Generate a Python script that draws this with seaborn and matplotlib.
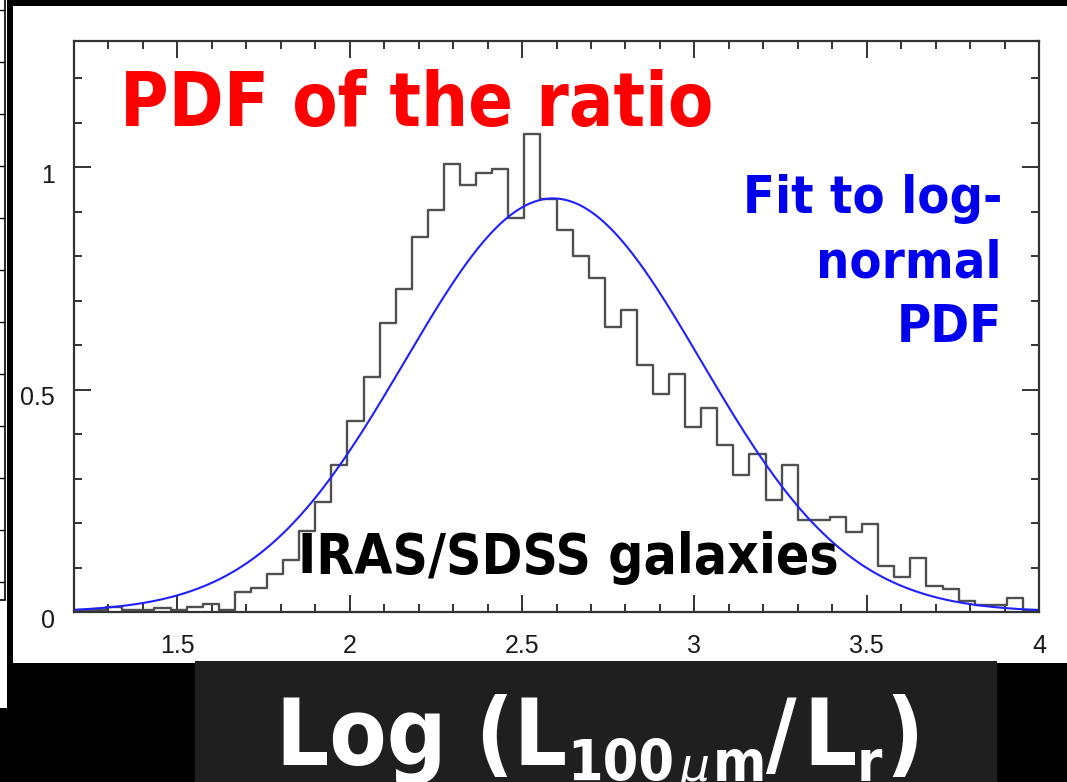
import os
import numpy as np
import pandas as pd
import matplotlib
matplotlib.use("Agg")
import matplotlib.pyplot as plt
import matplotlib.transforms as mtransforms
import seaborn as sns
from matplotlib import font_manager as fm
from matplotlib.patches import Rectangle
from matplotlib.lines import Line2D
from matplotlib.ticker import MultipleLocator, FixedLocator, FixedFormatter

# ---------------- data ----------------
bin_start = 1.2
bin_stop = 4.0
n_bins = 60
pdf_heights = [0.003, 0.004, 0.011, 0.004, 0.004, 0.010, 0.004, 0.012, 0.017, 0.004,
               0.046, 0.053, 0.085, 0.117, 0.183, 0.248, 0.331, 0.429, 0.528, 0.650,
               0.727, 0.844, 0.905, 1.008, 0.961, 0.987, 0.996, 0.885, 1.074, 0.929,
               0.858, 0.800, 0.752, 0.642, 0.679, 0.556, 0.491, 0.536, 0.415, 0.459,
               0.375, 0.309, 0.355, 0.251, 0.330, 0.206, 0.206, 0.214, 0.180, 0.199,
               0.103, 0.078, 0.122, 0.058, 0.051, 0.025, 0.016, 0.016, 0.032, 0.004]
# parameters of the fitted (log-normal) curve
fit_mu = 2.59
fit_sigma = 0.43
fit_peak = 0.93

x_ticks = [1.5, 2, 2.5, 3, 3.5, 4]
x_tick_labels = ["1.5", "2", "2.5", "3", "3.5", "4"]
y_ticks = [0, 0.5, 1]
y_tick_labels = ["0", "0.5", "1"]

title_text = "PDF of the ratio"
fit_text_lines = ["Fit to log-", "normal", "PDF"]
sample_text = "IRAS/SDSS galaxies"

# ---------------- fonts ----------------
def font_file(basename):
    for f in fm.fontManager.ttflist:
        if os.path.basename(f.fname) == basename:
            return f.fname
    try:
        for p in fm.findSystemFonts():
            if os.path.basename(p) == basename:
                return p
    except Exception:
        pass
    return None

cond_bold = font_file("DejaVuSansCondensed-Bold.ttf")


def bold_fp(size):
    if cond_bold:
        return fm.FontProperties(fname=cond_bold, size=size)
    return fm.FontProperties(family="DejaVu Sans", weight="bold", size=size * 0.9)


sns.set_style("ticks")
plt.rcParams["font.family"] = ["Liberation Sans", "DejaVu Sans"]

W, H = 1067, 782
fig = plt.figure(figsize=(W / 100, H / 100), dpi=100, facecolor="black")


def fx(px):
    return px / W


def fy(py):
    return 1 - py / H


# slide background pieces
fig.add_artist(Rectangle((fx(13), fy(663)), 1 - fx(13), fy(6) - fy(663),
                         transform=fig.transFigure, facecolor="white",
                         edgecolor="none", zorder=-5))
fig.add_artist(Rectangle((0, fy(708)), fx(7), 1 - fy(708), transform=fig.transFigure,
                         facecolor="white", edgecolor="none", zorder=-5))
fig.add_artist(Line2D([fx(5), fx(5)], [fy(0), fy(600)], transform=fig.transFigure,
                      color="black", lw=1.2, zorder=-4))
fig.add_artist(Line2D([0, fx(5)], [fy(600), fy(600)], transform=fig.transFigure,
                      color="black", lw=1.2, zorder=-4))
for yy in np.arange(10, 600, 52):
    fig.add_artist(Line2D([0, fx(4)], [fy(yy), fy(yy)], transform=fig.transFigure,
                          color="black", lw=1.0, zorder=-4))
fig.add_artist(Rectangle((fx(195), 0), fx(997) - fx(195), fy(661),
                         transform=fig.transFigure, facecolor="#1f1f1f",
                         edgecolor="none", zorder=-1))

# ---------------- axes ----------------
ax = fig.add_axes([fx(74), fy(612), fx(1039) - fx(74), fy(41) - fy(612)])
ax.set_facecolor("white")

edges = list(np.linspace(bin_start, bin_stop, n_bins + 1))
centers = [(a + b) / 2 for a, b in zip(edges[:-1], edges[1:])]
df_hist = pd.DataFrame({"ratio": centers, "pdf": pdf_heights})
sns.histplot(data=df_hist, x="ratio", weights="pdf", bins=edges, element="step",
             fill=False, color="#505050", linewidth=1.7, ax=ax)

x_fit = np.linspace(bin_start, bin_stop, 500)
y_fit = fit_peak * np.exp(-0.5 * ((x_fit - fit_mu) / fit_sigma) ** 2)
sns.lineplot(x=x_fit, y=y_fit, color="#2020ff", linewidth=1.5, ax=ax)

ax.set_xlim(bin_start, bin_stop)
ax.set_ylim(0, 1.284)
ax.set_xlabel("")
ax.set_ylabel("")

ax.xaxis.set_major_locator(FixedLocator(x_ticks))
ax.xaxis.set_major_formatter(FixedFormatter(x_tick_labels))
ax.xaxis.set_minor_locator(MultipleLocator(0.1))
ax.yaxis.set_major_locator(FixedLocator(y_ticks))
ax.yaxis.set_major_formatter(FixedFormatter(y_tick_labels))
ax.yaxis.set_minor_locator(MultipleLocator(0.1))

ax.tick_params(which="both", direction="in", top=True, right=True,
               color="#333333", width=1.4)
ax.tick_params(which="major", length=12)
ax.tick_params(which="minor", length=6)
ax.tick_params(axis="x", which="major", pad=16, labelsize=18, labelcolor="#1a1a1a")
ax.tick_params(axis="y", which="major", pad=14, labelsize=18, labelcolor="#1a1a1a")
for s in ax.spines.values():
    s.set_visible(True)
    s.set_color("#333333")
    s.set_linewidth(1.6)

offset = mtransforms.ScaledTranslation(0, -0.06, fig.dpi_scale_trans)
for lab in ax.get_yticklabels():
    lab.set_transform(lab.get_transform() + offset)

# ---------------- annotations ----------------
fig.text(fx(120), fy(126), title_text, color="#ff0000", fontproperties=bold_fp(53),
         ha="left", va="baseline")
for line, b in zip(fit_text_lines, [213, 277, 342]):
    fig.text(fx(1002), fy(b), line, color="#0000ee", fontproperties=bold_fp(37.5),
             ha="right", va="baseline")
fig.text(fx(298), fy(573), sample_text, color="black", fontproperties=bold_fp(39.5),
         ha="left", va="baseline")

# x-axis caption on the dark box: Log (L_100μm / L_r)
main_fp = bold_fp(67)
sub_fp = bold_fp(41)
mu_fp = fm.FontProperties(family="DejaVu Sans", style="oblique", size=34)
base_main = fy(765)
base_sub = fy(781)
prev = ax.text(fx(276), base_main, "Log (L", transform=fig.transFigure,
               fontproperties=main_fp, color="white", ha="left", va="baseline",
               clip_on=False)
pieces = [("100", sub_fp, base_sub, 0), ("\u03bc", mu_fp, base_sub, 4),
          ("m", sub_fp, base_sub, 2), ("/", main_fp, base_main, 0),
          ("L", main_fp, base_main, 5), ("r", sub_fp, base_sub, 0),
          (")", main_fp, base_main, 2)]
for s, fp, yb, gap in pieces:
    prev = ax.annotate(s, xy=(1, yb), xycoords=(prev, "figure fraction"),
                       xytext=(gap, 0), textcoords="offset points",
                       fontproperties=fp, color="white", ha="left", va="baseline",
                       annotation_clip=False)

fig.savefig("out.png", dpi=100, facecolor="black")
